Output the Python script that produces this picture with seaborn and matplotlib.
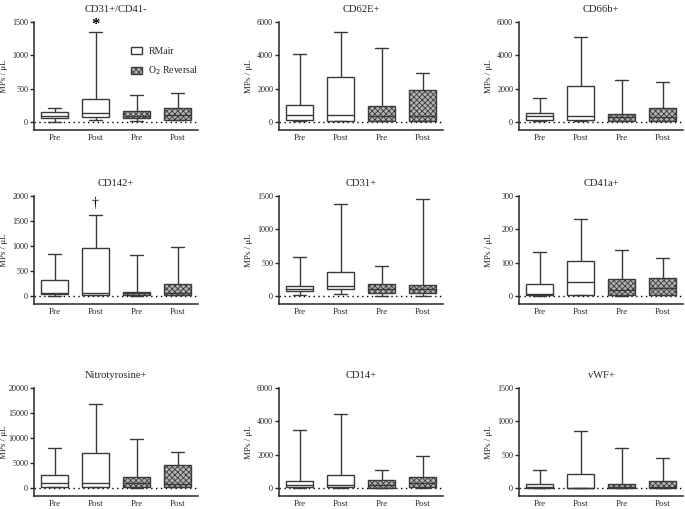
import numpy as np
import pandas as pd
import matplotlib
matplotlib.use("Agg")
import matplotlib.pyplot as plt
import seaborn as sns
from matplotlib.patches import Patch

# ---------------- data (five-number summaries: min, Q1, median, Q3, max) ----------------
groups = ["RMair Pre", "RMair Post", "O2 Pre", "O2 Post"]
tick_labels = ["Pre", "Post", "Pre", "Post"]
legend_labels = ["RMair", "O$_2$ Reversal"]
titles = ["CD31+/CD41-", "CD62E+", "CD66b+",
          "CD142+", "CD31+", "CD41a+",
          "Nitrotyrosine+", "CD14+", "vWF+"]

cd31_cd41neg = [[10, 70, 100, 160, 220], [40, 80, 145, 355, 1350],
                [15, 64, 99, 173, 409], [30, 40, 108, 222, 444]]
cd62e = [[60, 140, 440, 1060, 4100], [60, 100, 420, 2700, 5400],
         [60, 100, 380, 980, 4440], [60, 100, 380, 1940, 2960]]
cd66b = [[60, 140, 360, 580, 1490], [60, 140, 380, 2170, 5130],
         [60, 100, 300, 520, 2530], [60, 100, 340, 860, 2410]]
cd142 = [[15, 40, 75, 325, 845], [20, 25, 60, 960, 1630],
         [10, 25, 60, 90, 825], [20, 25, 60, 245, 980]]
cd31 = [[15, 84, 104, 163, 587], [30, 104, 153, 365, 1385],
        [10, 59, 113, 192, 458], [5, 59, 118, 177, 1460]]
cd41a = [[2, 3, 8, 36, 134], [3, 5, 42, 107, 232],
         [2, 3, 19, 51, 140], [3, 5, 24, 54, 116]]
nitrotyrosine = [[200, 390, 1100, 2770, 8060], [200, 320, 1030, 7030, 16770],
                 [130, 260, 1030, 2260, 9800], [200, 320, 840, 4640, 7220]]
cd14 = [[20, 60, 220, 420, 3480], [20, 60, 180, 780, 4460],
        [20, 40, 200, 520, 1080], [20, 60, 320, 700, 1940]]
vwf = [[5, 10, 25, 74, 276], [3, 5, 10, 221, 861],
       [3, 10, 20, 74, 605], [3, 10, 25, 118, 448]]

panel_data = [cd31_cd41neg, cd62e, cd66b, cd142, cd31, cd41a, nitrotyrosine, cd14, vwf]
y_tops = [1500, 6000, 6000, 2000, 1500, 300, 20000, 6000, 1500]
y_steps = [500, 2000, 2000, 500, 500, 100, 5000, 2000, 500]

# ---------------- style ----------------
sns.set_theme(style="ticks")
plt.rcParams["font.family"] = ["Liberation Serif", "DejaVu Serif"]
plt.rcParams["hatch.color"] = "#707070"
plt.rcParams["hatch.linewidth"] = 0.6
plt.rcParams["axes.linewidth"] = 1.1

white = "#ffffff"
gray = "#b4b4b4"
edge = "#3a3a3a"
hatch = "xxxxxx"
palette = {groups[0]: white, groups[1]: white, groups[2]: gray, groups[3]: gray}

W, H = 685, 509
fig = plt.figure(figsize=(W / 100, H / 100), dpi=100)
lefts = [34, 279, 519]
tops = [22, 196, 388]
aw, ah = 164, 108

for i, (title, summ, top, step) in enumerate(zip(titles, panel_data, y_tops, y_steps)):
    r, c = divmod(i, 3)
    ax = fig.add_axes([lefts[c] / W, 1 - (tops[r] + ah) / H, aw / W, ah / H])
    df = pd.DataFrame({"group": np.repeat(groups, 5),
                       "value": np.concatenate([np.asarray(s, float) for s in summ])})
    ax.axhline(0, ls=(0, (1, 2.5)), color="black", lw=1.0, zorder=0.5)
    sns.boxplot(data=df, x="group", y="value", hue="group", order=groups,
                hue_order=groups, palette=palette, legend=False,
                whis=(0, 100), showfliers=False, width=0.68,
                linecolor=edge, linewidth=1.0, ax=ax)
    for p in ax.patches:
        verts = p.get_path().vertices
        xc = np.mean(verts[:, 0])
        if xc > 1.5:
            p.set_hatch(hatch)
    ax.set_xlim(-0.5, 3.5)
    ax.set_ylim(-0.075 * top, top)
    ticks = np.arange(0, top + 1, step)
    ax.set_yticks(ticks)
    ax.set_yticklabels([str(int(t)) for t in ticks])
    ax.set_xticks(range(4))
    ax.set_xticklabels(tick_labels)
    ax.set_xlabel("")
    ax.set_ylabel("MPs / μL", fontsize=6.4)
    ax.yaxis.set_label_coords(-0.158, 0.5)
    ax.set_title(title, fontsize=7.6, pad=7)
    ax.tick_params(axis="y", length=3, width=1, labelsize=5.9, pad=1.2)
    ax.tick_params(axis="x", length=0, labelsize=6.6, pad=3)
    sns.despine(ax=ax)

    if i == 0:
        ax.text(1, 1460, "*", ha="center", va="center", fontsize=12,
                fontweight="bold", color="black")
        handles = [Patch(facecolor=white, edgecolor=edge, lw=1.0),
                   Patch(facecolor=gray, edgecolor=edge, lw=1.0, hatch=hatch)]
        ax.legend(handles=handles, labels=legend_labels, loc="upper left",
                  bbox_to_anchor=(0.54, 0.85), frameon=False, fontsize=7,
                  handlelength=1.15, handleheight=0.75, labelspacing=0.9,
                  handletextpad=0.6)
    if i == 3:
        ax.text(1, 1850, "†", ha="center", va="center", fontsize=10, color="black")

fig.savefig("out.png", dpi=100)
